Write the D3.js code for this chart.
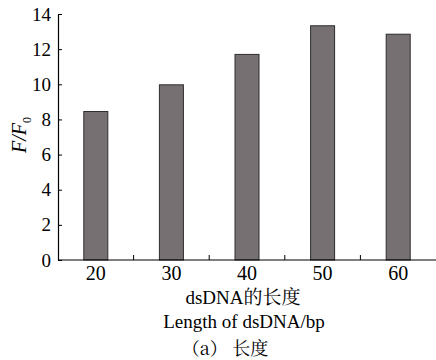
<!DOCTYPE html>
<html><head><meta charset="utf-8">
<script src="https://cdn.jsdelivr.net/npm/d3@7"></script>
<style>body{margin:0;background:#fff}svg{display:block}</style>
</head><body>
<script>
const categories = ["20","30","40","50","60"];
const values = [8.45, 9.97, 11.7, 13.33, 12.85];
const yTicks = [0,2,4,6,8,10,12,14];

const W = 436, H = 360;
const svg = d3.select("body").append("svg").attr("width", W).attr("height", H);
const serif = "'Liberation Serif', 'Times New Roman', serif";
const cjk = "'Noto Serif CJK SC', 'Noto Sans CJK SC', serif";

const x = d3.scaleBand().domain(categories).range([58, 436]).paddingInner(0).paddingOuter(0);
const y = d3.scaleLinear().domain([0, 14]).range([260, 14]);

const bw = 24;
svg.selectAll("rect.bar").data(values).enter().append("rect")
  .attr("class","bar")
  .attr("x", (d,i) => x(categories[i]) + x.bandwidth()/2 - bw/2)
  .attr("y", d => y(d))
  .attr("width", bw)
  .attr("height", d => y(0) - y(d))
  .attr("fill", "#767073")
  .attr("stroke", "#2f2c2d")
  .attr("stroke-width", 1);

// y axis
const yAxis = d3.axisLeft(y).tickValues(yTicks).tickSize(-4).tickPadding(7).tickSizeOuter(0);
const gy = svg.append("g").attr("transform","translate(58,0)").call(yAxis);
gy.select(".domain").attr("stroke","#000").attr("stroke-width",1.2);
gy.selectAll(".tick line").attr("stroke","#000");
gy.selectAll(".tick text").style("font-family", serif).style("font-size", "19px").attr("fill","#000");

// x axis line + ticks at band boundaries
svg.append("line").attr("x1",58).attr("x2",436).attr("y1",260).attr("y2",260)
  .attr("stroke","#000").attr("stroke-width",1.2);
const boundaries = categories.slice(1).map(c => x(c));
svg.selectAll("line.xt").data(boundaries).enter().append("line")
  .attr("x1", d=>d).attr("x2", d=>d).attr("y1",260).attr("y2",255)
  .attr("stroke","#000");
svg.selectAll("text.xl").data(categories).enter().append("text")
  .attr("x", d => x(d) + x.bandwidth()/2).attr("y", 280)
  .attr("text-anchor","middle").style("font-family", serif).style("font-size", "20px")
  .text(d => d);

// x titles
const t1 = svg.append("text").attr("x", 243).attr("y", 304).attr("text-anchor","middle")
  .style("font-family", serif).style("font-size", "19px");
t1.append("tspan").text("dsDNA");
t1.append("tspan").style("font-family", cjk).text("的长度");
svg.append("text").attr("x", 244).attr("y", 328).attr("text-anchor","middle")
  .style("font-family", serif).style("font-size", "19px").text("Length of dsDNA/bp");
svg.append("text").attr("x", 225).attr("y", 355).attr("text-anchor","middle")
  .style("font-family", cjk).style("font-size", "18px").text("（a） 长度");

// y title
const yt = svg.append("text").attr("transform","translate(26,135) rotate(-90)")
  .attr("text-anchor","middle").style("font-family", serif).style("font-size", "20px")
  .style("font-style","italic");
yt.append("tspan").text("F/F");
yt.append("tspan").style("font-size", "12px").attr("dy", 5).style("font-style","normal").text("0");
</script>
</body></html>
